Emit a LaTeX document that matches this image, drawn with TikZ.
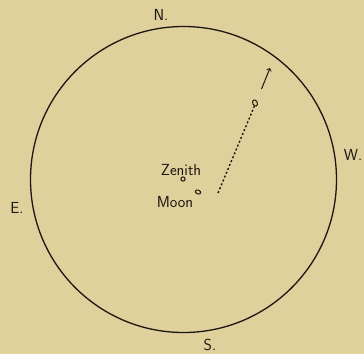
\documentclass[tikz,border=0pt]{standalone}
\usepackage{tikz}
\usetikzlibrary{calc,shapes.geometric}
\definecolor{paper}{RGB}{222,209,156}
\definecolor{ink}{RGB}{30,22,18}
\tikzset{lbl/.style={text=ink,font=\sffamily\fontsize{16}{18}\selectfont,inner sep=0pt}}

\begin{document}
\begin{tikzpicture}[x=1pt,y=-1pt]
\fill[paper] (0,0) rectangle (364,354);
\useasboundingbox (0,0) rectangle (364,354);
\coordinate (O) at (183.5,179.5);
\draw[ink,line width=1.3pt] (O) circle (153);
\node[lbl] (N) at (161,15) {N.}; \node[lbl] (S) at (210,345) {S.};
\node[lbl] (E) at (17,208) {E.}; \node[lbl] (W) at (353,155) {W.};
\node[lbl] (zenlbl) at (181,170) {Zenith}; \node[lbl] (moonlbl) at (175,202) {Moon};
\node[draw=ink,line width=1pt,circle,inner sep=1.5pt] (zen) at (183,179) {};
\node[draw=ink,line width=1pt,ellipse,minimum width=5.5pt,minimum height=3.8pt,inner sep=0pt,rotate=-20] (moon) at (198,192) {};
\node[draw=ink,line width=1pt,ellipse,minimum width=4.5pt,minimum height=6.5pt,inner sep=0pt,rotate=25] (met) at (255,103) {};
\coordinate (start) at (218,193);
\coordinate (a1) at (261.5,89); \coordinate (a2) at (270,68);
\draw[ink,line width=1.4pt,dash pattern=on 2pt off 2.2pt] (start) -- (met.south west);
\draw[ink,line width=1pt,->] (a1) -- (a2);
\end{tikzpicture}
\end{document}
